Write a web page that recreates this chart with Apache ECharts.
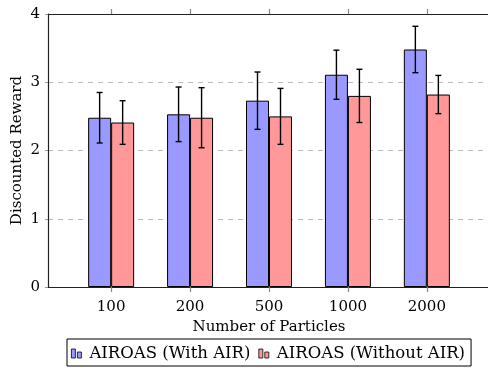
<!DOCTYPE html>
<html>
<head>
<meta charset="utf-8">
<script src="https://cdn.jsdelivr.net/npm/echarts@6/dist/echarts.min.js"></script>
<style>
html, body { margin: 0; padding: 0; background: #fff; }
#chart { width: 488px; height: 368px; }
</style>
</head>
<body>
<div id="chart"></div>
<script>
// 数据
var categories = ['100', '200', '500', '1000', '2000'];
var withAir = [2.48, 2.53, 2.73, 3.11, 3.48];
var withAirErr = [0.37, 0.40, 0.42, 0.36, 0.34];
var withoutAir = [2.41, 2.48, 2.50, 2.80, 2.82];
var withoutAirErr = [0.32, 0.44, 0.41, 0.39, 0.28];
var yTicks = [0, 1, 2, 3, 4];

var FONT = 'DejaVu Serif';
var BAR_W = 23;

var chart = echarts.init(document.getElementById('chart'));

var toPairs = function(vals) {
    return vals.map(function(v, i) { return [i, v]; });
};
var toErr = function(vals, errs) {
    return vals.map(function(v, i) { return [i, v - errs[i], v + errs[i]]; });
};

// 误差线
var errRender = function(shift) {
    return function(params, api) {
        var lo = api.coord([api.value(0), api.value(1)]);
        var hi = api.coord([api.value(0), api.value(2)]);
        var x = lo[0] + shift;
        var cap = 3;
        var style = { stroke: '#000', lineWidth: 1.4 };
        return {
            type: 'group',
            children: [
                { type: 'line', shape: { x1: x, y1: lo[1], x2: x, y2: hi[1] }, style: style },
                { type: 'line', shape: { x1: x - cap, y1: lo[1], x2: x + cap, y2: lo[1] }, style: style },
                { type: 'line', shape: { x1: x - cap, y1: hi[1], x2: x + cap, y2: hi[1] }, style: style }
            ]
        };
    };
};

var iconPath = 'path://M0,0h4v9h-4z M6,3h4v6h-4z';
var tickValues = [0, 1, 2, 3, 4];

var option = {
    animation: false,
    grid: {
        left: 48,
        right: -2,
        top: 14,
        bottom: 81,
        outerBoundsMode: 'none'
    },
    legend: {
        left: 67,
        top: 339,
        padding: [6, 6, 4, 4],
        borderColor: '#000',
        borderWidth: 1,
        itemWidth: 10,
        itemHeight: 9,
        itemGap: 8,
        itemStyle: { borderWidth: 0.8 },
        textStyle: { fontFamily: FONT, fontSize: 16.5, color: '#000', padding: [0, 0, 0, 3] },
        data: [
            { name: 'AIROAS (With AIR)', icon: iconPath },
            { name: 'AIROAS (Without AIR)', icon: iconPath }
        ]
    },
    xAxis: [{
        type: 'value',
        position: 'bottom',
        min: -0.8,
        max: 4.8,
        name: 'Number of Particles',
        nameLocation: 'middle',
        nameGap: 32,
        nameTextStyle: { fontFamily: FONT, fontSize: 15, color: '#000' },
        axisLine: { onZero: false, lineStyle: { color: '#222', width: 1.2 } },
        axisTick: {
            show: true,
            length: 5,
            customValues: tickValues,
            lineStyle: { color: '#888', width: 1.2 }
        },
        axisLabel: {
            customValues: tickValues,
            margin: 13,
            fontFamily: FONT,
            fontSize: 15,
            color: '#000',
            formatter: function(v) { return categories[Math.round(v)]; }
        },
        splitLine: { show: false }
    }, {
        type: 'value',
        position: 'top',
        min: -0.8,
        max: 4.8,
        axisLine: { show: true, onZero: false, lineStyle: { color: '#222', width: 1.2 } },
        axisTick: {
            show: true,
            length: 5,
            customValues: tickValues,
            lineStyle: { color: '#888', width: 1.2 }
        },
        axisLabel: { show: false },
        splitLine: { show: false }
    }],
    yAxis: {
        type: 'value',
        min: 0,
        max: 4,
        interval: 1,
        name: 'Discounted Reward',
        nameLocation: 'middle',
        nameGap: 23,
        nameMoveOverlap: false,
        nameTextStyle: { fontFamily: FONT, fontSize: 15, color: '#000' },
        axisLine: { show: true, onZero: false, lineStyle: { color: '#222', width: 1.2 } },
        axisTick: { show: true, length: 3, lineStyle: { color: '#999' } },
        axisLabel: {
            margin: 8,
            fontFamily: FONT,
            fontSize: 15,
            color: '#000',
            formatter: function(v) { return yTicks.indexOf(v) >= 0 ? String(v) : ''; }
        },
        splitLine: { lineStyle: { color: '#bbb', type: [5, 5], width: 1 } }
    },
    series: [{
        name: 'AIROAS (With AIR)',
        type: 'bar',
        barWidth: BAR_W,
        barGap: '0%',
        itemStyle: { color: '#9999ff', borderColor: '#000', borderWidth: 1 },
        data: toPairs(withAir)
    }, {
        name: 'AIROAS (Without AIR)',
        type: 'bar',
        barWidth: BAR_W,
        barGap: '0%',
        itemStyle: { color: '#ff9999', borderColor: '#000', borderWidth: 1 },
        data: toPairs(withoutAir)
    }, {
        name: 'errWith',
        type: 'custom',
        renderItem: errRender(-BAR_W / 2),
        encode: { x: 0, y: [1, 2] },
        data: toErr(withAir, withAirErr),
        z: 10
    }, {
        name: 'errWithout',
        type: 'custom',
        renderItem: errRender(BAR_W / 2),
        encode: { x: 0, y: [1, 2] },
        data: toErr(withoutAir, withoutAirErr),
        z: 10
    }]
};

chart.setOption(option);

window.addEventListener('resize', function() {
    chart.resize();
});
</script>
</body>
</html>
